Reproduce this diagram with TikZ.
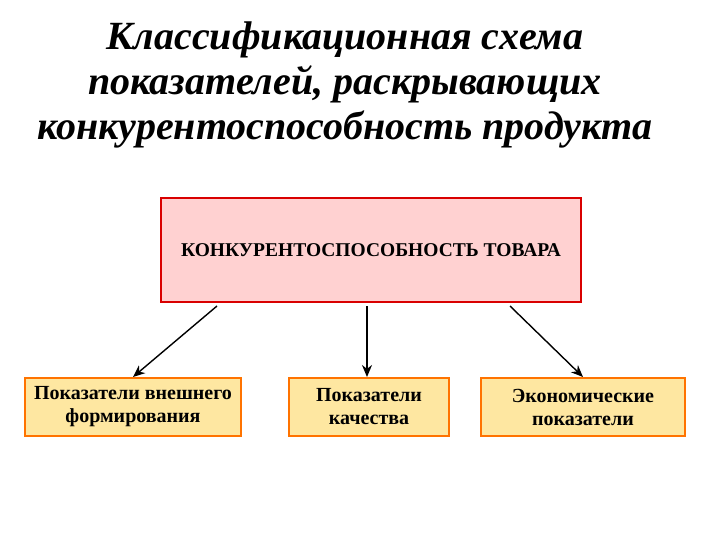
\documentclass[tikz,border=0pt]{standalone}
\usepackage{fontspec}
\setmainfont{Liberation Serif}
\usetikzlibrary{arrows.meta}
\begin{document}
\begin{tikzpicture}[x=1pt,y=-1pt,
 lowbox/.style={draw=orange!90!red,line width=2pt,fill=yellow!55!orange!35,minimum height=58pt,align=center,font=\fontsize{20}{23}\selectfont\bfseries,inner sep=2pt},
 arr/.style={-{Stealth[length=12pt,width=10pt]},line width=1.4pt}]
\useasboundingbox (0,0) rectangle (720,540);
\node[font=\fontsize{40}{45}\selectfont\bfseries\itshape,align=center] (title) at (345,85)
 {Классификационная схема\\показателей, раскрывающих\\конкурентоспособность продукта};
\node[draw=red!85!black,line width=2pt,fill=red!18,minimum width=420pt,minimum height=104pt,font=\fontsize{19.5}{21}\selectfont\bfseries] (main) at (371,250) {КОНКУРЕНТОСПОСОБНОСТЬ ТОВАРА};
\node[lowbox,minimum width=216pt] (b1) at (133,407) {Показатели внешнего\\формирования};
\node[lowbox,minimum width=160pt] (b2) at (369,407) {Показатели\\качества};
\node[lowbox,minimum width=204pt] (b3) at (583,407) {Экономические\\показатели};
\coordinate (s1) at (217,306);
\coordinate (s2) at (367,306);
\coordinate (s3) at (510,306);
\draw[arr] (s1) -- (b1.north);
\draw[arr] (s2) -- (367,377);
\draw[arr] (s3) -- (b3.north);
\end{tikzpicture}
\end{document}
